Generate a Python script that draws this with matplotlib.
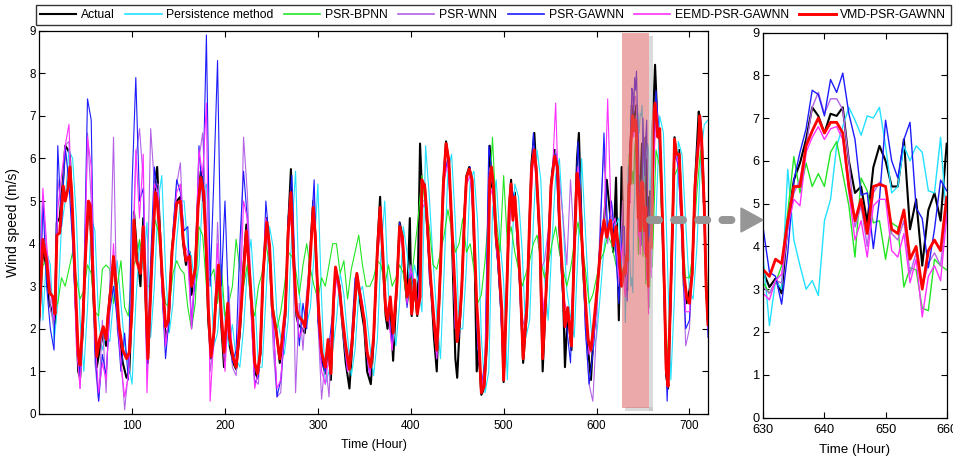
import matplotlib
matplotlib.use('Agg')
import matplotlib.pyplot as plt
from matplotlib.patches import Rectangle, Polygon
from matplotlib.lines import Line2D

plt.rcParams['font.family'] = ['Liberation Sans', 'DejaVu Sans']

# ---------------- data ----------------
series_names = ['Actual', 'Persistence method', 'PSR-BPNN', 'PSR-WNN',
                'PSR-GAWNN', 'EEMD-PSR-GAWNN', 'VMD-PSR-GAWNN']

# hours for Actual / VMD-PSR-GAWNN (main panel, outside the 630-660 window)
hours_act = [0,4,8,11,15,17,19,22,26,28,
             31,33,35,38,42,44,47,50,53,55,
             58,62,65,69,72,74,78,80,83,86,
             90,94,97,100,102,105,109,112,115,117,
             121,125,127,130,132,136,139,143,148,152,
             155,158,162,164,168,171,174,177,180,182,
             185,188,190,193,196,199,203,205,209,212,
             216,220,223,226,230,232,235,238,241,245,
             248,251,255,259,261,265,268,271,274,277,
             279,283,286,290,295,297,301,304,308,311,
             314,317,319,323,326,330,334,337,341,342,
             345,350,353,357,360,364,367,369,373,375,
             378,381,385,388,391,393,396,399,401,404,
             407,410,412,415,417,421,425,428,432,435,
             438,441,444,448,450,453,455,458,460,463,
             466,469,471,473,476,479,482,485,487,489,
             492,494,498,500,503,506,508,510,512,515,
             518,521,525,528,530,533,535,539,542,545,
             549,551,555,558,560,564,566,569,573,576,
             579,581,585,589,591,594,596,601,605,608,
             611,615,618,621,624,627,629,
             661,663,666,668,670,673,675,677,679,682,
             684,686,689,692,694,697,700,703,706,710,
             711,713,716,718,720]

actual = [2.2,3.9,3.4,2.6,2.3,2.1,4.5,4.6,5.6,6.3,
          6.2,6.1,5.0,3.4,1.0,0.85,2.0,3.9,4.9,4.6,
          2.9,1.1,1.5,1.9,1.6,2.3,3.3,3.6,2.8,1.8,
          1.2,0.85,1.0,2.6,4.75,3.9,3.0,4.6,2.4,1.2,
          3.5,5.5,5.8,4.3,3.3,1.8,2.0,3.9,5.0,5.1,
          4.0,3.5,3.8,2.8,3.5,5.0,5.7,5.3,3.6,2.2,
          1.3,1.8,2.7,3.3,2.1,1.1,2.5,1.6,1.2,1.05,
          1.9,3.5,4.45,3.3,2.0,1.0,0.85,1.4,3.2,4.6,
          3.8,2.3,2.0,1.2,1.5,2.3,4.4,5.75,3.5,2.3,
          2.1,2.0,1.9,3.1,5.0,4.3,2.2,1.3,0.95,1.7,
          0.8,2.6,3.4,3.0,2.2,1.2,0.6,1.6,3.0,3.3,
          2.7,2.0,1.0,0.7,1.7,3.9,5.1,4.0,2.3,2.0,
          2.6,1.25,3.0,4.5,4.2,3.3,2.6,4.6,2.3,3.0,
          2.3,6.35,5.3,5.4,4.6,3.3,1.8,1.0,3.5,5.4,
          6.4,5.9,4.4,1.3,0.85,2.2,3.0,4.8,5.6,5.8,
          5.5,3.4,1.0,1.5,0.45,0.6,1.7,6.3,5.4,5.2,
          4.0,3.6,2.2,0.75,2.6,4.9,5.5,4.6,5.2,4.0,
          2.9,1.2,2.4,4.6,5.9,6.6,5.8,4.0,1.0,2.5,
          4.3,5.4,6.2,5.8,4.4,2.8,1.1,2.4,1.5,3.9,
          6.0,6.6,3.6,2.1,1.5,0.8,1.6,3.0,4.2,4.5,
          5.5,4.6,3.8,5.55,2.2,5.8,4.0,
          7.0,8.2,6.6,6.5,5.2,2.8,0.9,0.6,2.1,4.6,
          6.5,6.0,6.2,4.4,3.0,2.6,2.9,3.3,5.4,7.1,
          7.0,6.6,4.9,3.0,2.1]

vmd = [2.3,4.1,3.6,2.85,2.75,2.35,4.2,4.25,5.35,5.0,
       5.3,5.8,5.2,3.6,1.4,1.15,2.2,3.8,5.0,4.9,
       3.2,1.35,1.75,2.05,1.75,2.3,3.1,3.7,3.0,2.05,
       1.5,1.3,1.45,2.5,4.55,3.6,3.3,4.4,2.6,1.3,
       3.4,5.2,5.0,4.2,3.4,2.05,2.2,3.8,4.95,5.0,
       4.1,3.6,3.7,3.0,3.4,4.85,5.55,5.2,3.8,2.5,
       1.35,1.9,2.6,3.5,2.35,1.45,2.6,1.8,1.3,1.1,
       2.05,3.3,4.3,3.45,2.2,1.2,0.95,1.45,3.3,4.5,
       3.95,2.5,1.95,1.3,1.65,2.45,4.25,5.2,3.6,2.45,
       2.3,2.2,2.05,3.0,4.85,4.25,2.35,1.45,1.1,1.75,
       0.95,2.75,3.45,3.0,2.35,1.6,1.05,1.75,3.0,3.3,
       2.85,2.2,1.45,1.1,1.8,3.8,4.85,4.15,2.45,2.2,
       2.75,1.9,3.0,4.4,4.15,3.45,2.75,3.15,2.35,3.15,
       2.35,2.75,5.5,5.35,4.8,3.3,2.2,1.5,3.4,5.35,
       6.35,5.95,4.55,2.75,1.7,2.3,3.0,4.7,5.55,5.75,
       5.5,3.8,2.6,1.9,0.5,0.65,1.8,5.5,5.8,5.35,
       4.15,3.8,2.45,0.8,2.6,4.85,5.4,4.55,5.1,4.25,
       3.0,1.3,2.5,4.55,5.75,6.2,5.75,4.15,1.3,2.6,
       4.25,5.35,6.05,5.8,4.55,3.0,2.05,2.5,1.6,3.8,
       5.65,5.35,3.8,2.35,1.75,1.5,1.9,3.0,4.1,4.55,
       4.15,4.55,3.95,4.4,3.8,3.0,3.3,
       6.9,7.3,6.5,6.7,5.35,3.0,1.05,0.65,2.2,4.55,
       6.45,6.1,6.1,4.55,3.3,2.75,2.6,3.3,5.35,6.45,
       7.0,6.5,4.85,3.0,2.1]

# 4-hour grid for the other forecasts (main panel, outside the window)
hours_grid = list(range(0, 629, 4)) + list(range(664, 721, 4))

persistence = [5.3,2.2,3.8,3.5,1.7,2.6,4.4,5.0,6.2,6.0,
               4.6,2.2,1.0,2.5,4.6,4.3,2.2,1.5,1.9,1.7,
               2.7,3.6,2.6,1.6,1.2,0.7,2.6,4.0,3.4,4.5,
               1.8,3.0,5.0,5.6,3.4,1.9,2.6,4.1,5.0,5.0,
               3.9,3.7,2.9,3.5,5.2,5.4,3.7,1.6,1.9,3.1,
               2.2,1.6,2.1,1.3,1.1,2.0,3.4,4.1,2.8,1.1,
               1.1,2.7,4.4,3.9,2.3,1.8,1.4,2.2,4.3,5.7,
               2.8,2.2,2.1,2.5,3.8,5.4,2.7,0.7,1.0,1.5,
               2.2,3.3,2.8,1.8,0.9,1.5,2.8,3.0,2.4,1.6,
               0.9,1.75,3.8,5.0,2.8,2.3,1.6,2.6,4.4,3.8,
               2.7,3.5,3.1,2.4,6.3,5.1,3.6,2.3,1.3,3.4,
               5.7,6.1,4.5,2.0,2.0,3.5,5.5,5.7,4.5,1.8,
               0.5,1.0,4.8,5.5,4.1,3.1,0.8,3.3,5.4,5.1,
               3.8,1.8,2.2,4.5,6.2,5.5,3.2,2.2,4.0,5.6,
               6.0,4.5,2.9,2.3,1.8,3.8,6.0,4.3,2.6,1.5,
               1.8,2.8,3.9,4.5,4.6,4.4,4.6,3.0,
               4.6,7.0,6.6,3.8,0.8,2.8,6.4,6.1,4.5,2.9,2.7,3.9,6.0,6.8,6.9]

bpnn = [2.5,3.5,3.6,3.0,2.5,2.6,3.2,3.0,3.4,3.8,
        3.2,2.7,2.9,3.5,3.3,2.4,2.3,3.4,3.5,3.4,
        2.6,3.0,3.6,2.5,2.3,3.4,3.6,4.1,3.6,3.0,
        3.0,4.6,4.3,3.3,2.6,2.5,3.3,3.6,3.4,3.3,
        2.5,2.0,2.6,4.4,4.2,3.0,3.2,3.4,2.6,3.5,
        2.3,2.6,3.0,4.1,3.4,3.0,3.5,2.6,2.3,3.0,
        3.3,4.0,3.5,2.5,2.0,2.4,3.0,3.8,3.7,3.4,
        2.8,3.5,4.0,3.4,3.0,2.7,3.2,3.0,3.5,4.0,
        4.0,3.3,3.6,2.7,3.4,3.8,4.2,3.5,3.0,3.0,
        3.2,3.6,3.5,3.0,3.5,3.0,3.2,3.5,3.3,2.6,
        3.0,3.8,4.6,5.6,4.8,4.4,3.5,3.4,3.8,4.2,
        4.8,4.3,3.8,4.0,4.6,3.8,4.0,3.4,2.6,2.8,
        3.6,4.8,6.5,4.6,3.8,5.6,4.0,4.4,3.8,3.4,
        3.0,3.3,3.6,4.0,4.2,3.6,3.2,3.5,4.0,4.4,
        3.8,3.4,3.0,3.4,4.0,4.5,4.0,3.4,2.6,2.8,
        3.2,3.6,3.8,4.2,4.0,3.6,3.2,3.4,
        6.2,5.8,3.6,1.2,3.0,5.6,5.8,4.3,3.2,3.2,3.8,5.2,6.2,4.6,2.5]

wnn = [2.5,5.0,3.8,2.5,2.0,5.5,4.8,6.3,6.4,4.2,
       2.0,0.6,2.5,6.6,5.0,1.2,0.3,2.2,0.5,3.0,
       6.5,2.0,1.3,0.1,1.0,3.5,6.0,6.7,5.5,2.5,
       6.7,5.4,5.4,3.0,1.6,2.3,4.3,5.4,5.9,3.8,
       3.6,2.2,3.4,6.0,6.6,4.5,1.0,1.6,4.5,2.6,
       1.3,3.0,1.1,0.9,2.8,6.5,5.2,3.0,0.8,0.7,
       2.8,4.4,3.6,1.5,0.4,0.5,2.0,4.0,5.1,0.5,
       2.6,1.5,2.9,3.6,5.3,2.2,0.35,1.3,0.4,2.4,
       3.2,2.6,1.7,1.0,1.4,2.9,3.0,2.5,1.8,1.0,
       1.8,3.6,4.6,2.6,2.4,1.5,2.8,4.3,3.9,2.6,
       3.5,3.0,2.5,5.0,5.0,3.4,2.4,1.4,3.4,5.5,
       6.0,4.5,2.0,2.2,3.6,5.4,5.6,4.4,1.8,0.6,
       1.1,5.8,5.4,4.0,3.0,0.9,3.2,5.2,5.0,3.8,
       2.0,2.4,4.4,6.3,5.2,3.4,3.6,4.3,5.6,6.2,
       5.5,4.6,3.5,5.5,4.0,5.8,4.3,2.0,0.7,0.3,
       2.0,4.6,6.2,4.0,5.0,4.2,3.0,5.0,
       7.4,6.5,3.6,0.6,2.6,6.2,5.8,4.0,1.6,2.0,3.8,5.8,6.7,4.6,2.0]

gawnn = [1.8,5.0,3.0,2.0,1.5,6.3,4.4,6.3,5.4,4.0,
         2.0,0.9,3.0,7.4,6.9,1.5,0.3,1.4,0.9,2.4,
         3.0,2.2,1.0,1.9,0.8,5.4,7.9,5.0,5.3,1.0,
         3.6,5.8,5.0,3.0,1.3,2.3,4.3,5.5,5.2,4.3,
         4.4,2.0,3.3,6.3,5.0,8.9,3.0,5.5,8.3,3.0,
         5.0,2.4,1.2,1.5,4.0,5.7,4.6,2.5,0.7,0.9,
         2.5,5.0,4.0,2.2,0.4,0.8,1.8,4.6,5.6,3.0,
         1.6,2.6,2.0,4.0,5.5,2.2,1.2,1.0,1.6,2.4,
         3.3,3.0,1.8,1.0,1.7,3.2,2.9,2.6,1.5,0.9,
         1.8,3.7,4.8,2.6,2.4,1.6,2.8,4.5,4.0,2.5,
         3.4,2.9,2.6,5.5,5.2,3.2,2.4,1.3,3.3,5.6,
         6.0,4.6,2.1,1.8,3.6,5.6,5.8,4.3,1.6,0.6,
         1.3,6.3,5.6,4.0,2.8,0.9,3.4,5.4,5.0,3.6,
         1.6,2.3,4.6,6.6,5.4,3.0,2.1,4.2,5.7,6.1,
         4.2,2.6,2.0,1.2,4.2,6.4,4.6,2.0,0.7,1.4,
         2.6,4.2,6.6,4.2,5.0,4.0,2.6,4.4,
         7.6,6.3,3.4,0.3,2.5,6.3,5.8,4.1,2.0,2.2,4.2,6.2,7.0,4.4,1.8]

eemd = [3.2,5.3,4.0,3.0,2.2,4.8,5.6,6.3,6.8,4.4,
        1.6,0.6,2.8,6.5,5.8,1.8,0.5,1.2,0.8,2.6,
        4.0,2.4,1.2,0.4,0.9,2.4,6.2,4.6,6.1,0.5,
        2.8,5.4,5.2,3.0,1.6,2.4,4.2,5.2,5.4,4.0,
        3.8,2.0,3.6,6.2,5.6,7.3,0.3,1.8,4.0,2.2,
        1.0,2.6,1.4,1.2,2.4,5.0,4.6,2.4,0.6,1.0,
        2.8,4.6,3.8,2.0,0.6,0.8,2.0,4.2,4.8,2.6,
        1.8,2.0,2.4,3.8,4.8,2.4,1.0,0.7,1.4,2.2,
        3.2,2.9,1.9,1.0,1.3,2.8,3.1,2.6,1.5,0.9,
        1.8,3.7,4.6,2.8,2.3,1.5,2.6,4.2,3.8,2.6,
        3.4,3.0,2.4,4.8,5.0,3.5,2.3,1.3,3.3,5.5,
        5.9,4.4,2.0,2.0,3.5,5.4,5.6,4.5,1.8,0.6,
        1.1,5.0,5.3,4.0,3.0,0.9,3.2,5.2,5.0,3.6,
        1.8,2.2,4.4,6.1,5.4,3.2,2.3,4.0,5.4,7.3,
        4.5,2.8,2.4,1.8,3.8,5.8,4.4,2.4,1.4,1.6,
        2.6,3.8,4.4,7.4,4.4,4.6,3.2,4.0,
        7.2,6.4,3.6,0.9,2.7,6.2,5.9,4.2,2.4,2.4,3.8,6.0,6.7,4.6,2.0]

# hourly values in the highlighted window 630-660 (right panel)
hours_zoom = list(range(630, 661))
actual_w = [3.4,3.05,3.25,2.9,4.55,5.55,5.95,6.5,7.25,7.05,
            6.65,7.1,7.05,7.25,6.0,5.25,5.4,4.55,5.85,6.35,
            6.0,5.4,5.4,6.5,4.4,5.1,3.55,4.85,5.25,4.6,6.4]
persistence_w = [3.7,2.15,3.2,3.0,5.8,4.15,3.55,3.0,3.2,2.85,
                 4.6,5.1,6.35,6.8,7.25,6.95,6.6,7.05,7.0,7.25,
                 6.35,5.25,5.4,6.35,6.0,6.35,6.2,5.3,5.25,6.55,4.55]
bpnn_w = [3.15,2.9,3.15,3.55,4.8,6.1,5.25,5.95,5.4,5.7,
          5.4,6.2,6.45,5.7,4.95,3.75,5.6,5.3,4.55,4.6,
          3.7,4.55,4.45,3.05,3.5,3.45,2.55,2.5,3.7,3.55,3.45]
wnn_w = [3.05,2.9,3.2,3.15,4.45,5.25,5.55,6.35,7.25,7.6,
         7.1,7.45,7.45,7.2,6.0,4.45,4.95,4.0,5.25,5.5,
         5.4,4.3,4.15,4.6,3.35,3.85,3.05,3.6,3.85,3.55,4.85]
gawnn_w = [4.4,3.4,3.3,2.65,3.85,5.55,6.2,6.75,7.65,7.55,
           7.05,7.9,7.6,8.05,7.1,6.5,5.2,5.25,3.95,5.1,
           6.95,6.0,5.6,6.5,6.9,4.9,4.65,3.5,4.4,5.55,5.3]
eemd_w = [2.9,2.75,3.2,3.35,4.45,5.1,4.95,6.2,6.55,6.8,
          6.5,6.75,6.8,6.5,5.25,4.15,4.6,3.75,4.95,5.1,
          5.1,3.9,3.75,4.3,3.15,3.7,2.35,3.3,3.55,3.2,4.7]
vmd_w = [3.45,3.3,3.7,3.6,4.6,5.4,5.4,6.35,6.7,7.0,
         6.65,6.9,6.9,6.65,5.4,4.6,5.1,4.3,5.4,5.45,
         5.4,4.4,4.3,4.85,3.7,4.0,3.0,3.9,4.15,3.9,5.15]

# ---------------- helpers ----------------
def merge(h, v, wv):
    assert len(h) == len(v), (len(h), len(v))
    assert len(wv) == len(hours_zoom)
    pairs = [(a, b) for a, b in zip(h, v) if a < 630 or a > 660]
    pairs += list(zip(hours_zoom, wv))
    pairs.sort()
    return [p[0] for p in pairs], [p[1] for p in pairs]

colors = ['#000000', '#22e0ff', '#22e622', '#b462e6', '#1c1cff', '#ff30ff', '#ff0000']
lw_main = [1.5, 0.8, 0.8, 0.8, 0.8, 0.8, 2.1]
lw_zoom = [1.5, 1.0, 1.0, 1.0, 1.0, 1.0, 2.0]

main_data = [merge(hours_act, actual, actual_w),
             merge(hours_grid, persistence, persistence_w),
             merge(hours_grid, bpnn, bpnn_w),
             merge(hours_grid, wnn, wnn_w),
             merge(hours_grid, gawnn, gawnn_w),
             merge(hours_grid, eemd, eemd_w),
             merge(hours_act, vmd, vmd_w)]
zoom_data = [actual_w, persistence_w, bpnn_w, wnn_w, gawnn_w, eemd_w, vmd_w]

# ---------------- figure ----------------
W, H = 954, 466
fig = plt.figure(figsize=(W / 100, H / 100), dpi=100)

def fx(px):
    return px / W

def fy(py):
    return 1 - py / H

ax1 = fig.add_axes([fx(39.2), fy(414), fx(708) - fx(39.2), fy(30.7) - fy(414)])
ax2 = fig.add_axes([fx(763.3), fy(417.5), fx(946.7) - fx(763.3), fy(32.5) - fy(417.5)])

handles = []
for (hx, hv), c, lw, name in zip(main_data, colors, lw_main, series_names):
    ln, = ax1.plot(hx, hv, color=c, lw=lw, label=name, solid_joinstyle='round')
    handles.append(ln)

for wv, c, lw in zip(zoom_data, colors, lw_zoom):
    ax2.plot(hours_zoom, wv, color=c, lw=lw)

for ax, tsize in ((ax1, 8.4), (ax2, 9.2)):
    ax.set_ylim(0, 9)
    ax.set_yticks(range(0, 10))
    ax.tick_params(direction='in', top=True, right=True, length=4.5, width=0.8,
                   labelsize=tsize, pad=2.5)
    for s in ax.spines.values():
        s.set_linewidth(0.9)

ax1.set_xlim(0, 720)
ax1.set_xticks(range(100, 701, 100))
ax1.tick_params(axis='x', pad=4.5)
ax1.set_xlabel('Time (Hour)', fontsize=9, labelpad=5)
ax1.set_ylabel('Wind speed (m/s)', fontsize=10, labelpad=7)
ax2.set_xlim(630, 660)
ax2.set_xticks([630, 640, 650, 660])
ax2.tick_params(axis='x', pad=4.5)
ax2.set_xlabel('Time (Hour)', fontsize=9.6, labelpad=6)

# highlighted window
ax1.add_patch(Rectangle((657, 0.08), 3.3, 8.8, facecolor='#bdbdbd', alpha=0.55,
                        edgecolor='none', zorder=5))
ax1.add_patch(Rectangle((630.6, 0.08), 29.7, 0.08, facecolor='#bdbdbd', alpha=0.55,
                        edgecolor='none', zorder=5))
ax1.add_patch(Rectangle((627.5, 0.15), 29.5, 8.8, facecolor=(0.86, 0.39, 0.39),
                        alpha=0.55, edgecolor='none', zorder=6))

# dashed arrow linking the panels
arrow_col = '#969696'
fig.add_artist(Line2D([fx(650), fx(736)], [fy(220), fy(220)], color=arrow_col,
                      lw=5.8, linestyle=(0, (1.1, 1.9)), dash_capstyle='round',
                      transform=fig.transFigure, zorder=10))
fig.add_artist(Polygon([[fx(741), fy(208)], [fx(763), fy(220)], [fx(741), fy(232)]],
                       closed=True, color=arrow_col, transform=fig.transFigure,
                       zorder=10))

leg = fig.legend(handles, series_names, loc='lower left',
                 bbox_to_anchor=(fx(36), fy(25)), ncol=7, fontsize=8.7,
                 handlelength=3.0, handletextpad=0.4, columnspacing=0.85,
                 frameon=True, fancybox=False, edgecolor='black',
                 borderpad=0.35, borderaxespad=0)
leg.get_frame().set_linewidth(1.0)
for l in leg.get_lines():
    l.set_linewidth(max(l.get_linewidth(), 1.2))

fig.savefig('out.png', dpi=100)
